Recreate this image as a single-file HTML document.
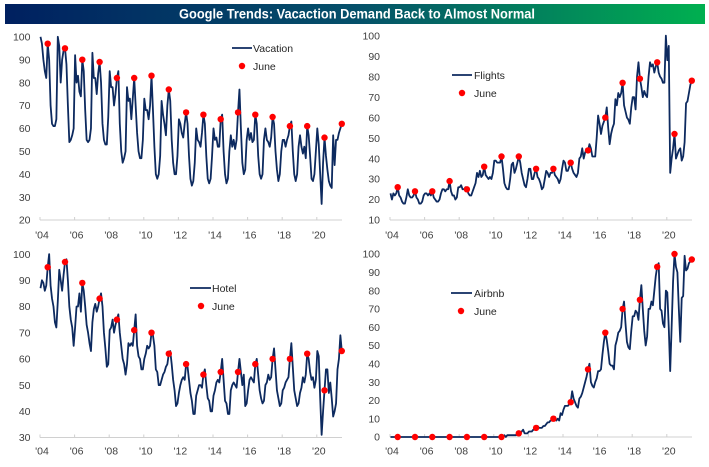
<!DOCTYPE html>
<html><head><meta charset="utf-8"><style>
html,body{margin:0;padding:0;background:#fff;}
svg{display:block;}
text{font-family:"Liberation Sans",Arial,sans-serif;}
.t{font-size:10.5px;fill:#404040;}
.l{font-size:10.5px;fill:#262626;}
.s{fill:none;stroke:#0d2a5f;stroke-width:1.8;stroke-linejoin:round;}
.ax{stroke:#d0d0d0;stroke-width:1;fill:none;}
.d{fill:#ff0000;}
</style></head><body>
<svg width="709" height="467" viewBox="0 0 709 467" xmlns="http://www.w3.org/2000/svg">
<defs>
<linearGradient id="g" x1="0" x2="1" y1="0" y2="0">
<stop offset="0" stop-color="#002060"/>
<stop offset="0.5" stop-color="#05506a"/>
<stop offset="1" stop-color="#00b050"/>
</linearGradient>
</defs>
<rect x="5" y="4" width="700" height="20" fill="url(#g)"/>
<text x="357" y="18.5" text-anchor="middle" font-size="13.5" font-weight="bold" fill="#fff" textLength="356" lengthAdjust="spacingAndGlyphs">Google Trends: Vacaction Demand Back to Almost Normal</text>

<!-- Panel 1 Vacation -->
<g class="t" text-anchor="end">
<text x="30.5" y="40.5">100</text><text x="30.5" y="63.4">90</text><text x="30.5" y="86.3">80</text><text x="30.5" y="109.2">70</text><text x="30.5" y="132.1">60</text><text x="30.5" y="155">50</text><text x="30.5" y="177.9">40</text><text x="30.5" y="200.8">30</text><text x="30.5" y="223.7">20</text>
</g>
<path class="ax" d="M40,220H342M40,217V220M74.6,217V220M109.2,217V220M143.8,217V220M178.4,217V220M213,217V220M247.6,217V220M282.2,217V220M316.8,217V220"/>
<g class="t" text-anchor="middle">
<text x="42" y="238.5">'04</text><text x="76.6" y="238.5">'06</text><text x="111.2" y="238.5">'08</text><text x="145.8" y="238.5">'10</text><text x="180.4" y="238.5">'12</text><text x="215" y="238.5">'14</text><text x="249.6" y="238.5">'16</text><text x="284.2" y="238.5">'18</text><text x="318.8" y="238.5">'20</text>
</g>
<g transform="translate(40.5,265.8) scale(1.4417,-2.29)">
<polyline class="s" vector-effect="non-scaling-stroke" points="0,100 1,97 2,90 3,85 4,82 5,97 6,90 7,70 8,62 9,61 10,61 11,64 12,100 13,96 14,80 15,90 16,94 17,95 18,88 19,70 20,54 21,55 22,57 23,60 24,92 25,80 26,83 27,76 28,74 29,90 30,85 31,68 32,55 33,54 34,55 35,60 36,93 37,82 38,82 39,75 40,84 41,89 42,80 43,62 44,55 45,53 46,53 47,65 48,85 49,78 50,78 51,70 52,75 53,82 54,85 55,62 56,50 57,45 58,47 59,50 60,78 61,72 62,73 63,64 64,73 65,82 66,70 67,58 68,50 69,47 70,47 71,55 72,73 73,68 74,68 75,64 76,70 77,83 78,68 79,52 80,40 81,38 82,40 83,48 84,72 85,66 86,62 87,57 88,70 89,77 90,72 91,55 92,45 93,40 94,40 95,48 96,64 97,62 98,58 99,56 100,62 101,67 102,62 103,48 104,38 105,35 106,37 107,45 108,60 109,55 110,54 111,52 112,58 113,66 114,62 115,48 116,38 117,36 118,38 119,48 120,60 121,55 122,56 123,52 124,52 125,64 126,66 127,50 128,40 129,36 130,38 131,50 132,57 133,52 134,55 135,51 136,55 137,67 138,77 139,60 140,45 141,40 142,42 143,55 144,60 145,55 146,58 147,54 148,55 149,66 150,62 151,48 152,40 153,38 154,40 155,55 156,60 157,55 158,54 159,52 160,56 161,65 162,62 163,50 164,42 165,37 166,40 167,50 168,55 169,55 170,52 171,55 172,57 173,61 174,63 175,50 176,40 177,37 178,40 179,52 180,57 181,52 182,49 183,52 184,47 185,61 186,57 187,48 188,38 189,37 190,40 191,50 192,60 193,53 194,40 195,27 196,45 197,56 198,48 199,42 200,37 201,35 202,34 203,57 204,44 205,55 206,55 207,58 208,60 209,62"/>
</g>
<g class="d">
<circle cx="47.7" cy="43.7" r="3.2"/><circle cx="65" cy="48.3" r="3.2"/><circle cx="82.3" cy="59.7" r="3.2"/><circle cx="99.6" cy="62" r="3.2"/><circle cx="116.9" cy="78" r="3.2"/><circle cx="134.2" cy="78" r="3.2"/><circle cx="151.5" cy="75.7" r="3.2"/><circle cx="168.8" cy="89.5" r="3.2"/><circle cx="186.1" cy="112.4" r="3.2"/><circle cx="203.4" cy="114.7" r="3.2"/><circle cx="220.7" cy="119.2" r="3.2"/><circle cx="238" cy="112.4" r="3.2"/><circle cx="255.3" cy="114.7" r="3.2"/><circle cx="272.6" cy="117" r="3.2"/><circle cx="289.9" cy="126.1" r="3.2"/><circle cx="307.2" cy="126.1" r="3.2"/><circle cx="324.5" cy="137.6" r="3.2"/><circle cx="341.8" cy="123.8" r="3.2"/>
</g>
<line x1="232" y1="48" x2="252" y2="48" stroke="#0d2a5f" stroke-width="1.8"/>
<text class="l" x="253" y="51.8">Vacation</text>
<circle class="d" cx="242" cy="66" r="3.2"/>
<text class="l" x="253" y="69.8">June</text>

<!-- Panel 2 Flights -->
<g class="t" text-anchor="end">
<text x="380" y="39.4">100</text><text x="380" y="59.9">90</text><text x="380" y="80.3">80</text><text x="380" y="100.8">70</text><text x="380" y="121.3">60</text><text x="380" y="141.8">50</text><text x="380" y="162.3">40</text><text x="380" y="182.7">30</text><text x="380" y="203.2">20</text><text x="380" y="223.7">10</text>
</g>
<path class="ax" d="M390,220H692M390,217V220M424.6,217V220M459.2,217V220M493.8,217V220M528.4,217V220M563,217V220M597.6,217V220M632.2,217V220M666.8,217V220"/>
<g class="t" text-anchor="middle">
<text x="392" y="238.5">'04</text><text x="426.6" y="238.5">'06</text><text x="461.2" y="238.5">'08</text><text x="495.8" y="238.5">'10</text><text x="530.4" y="238.5">'12</text><text x="565" y="238.5">'14</text><text x="599.6" y="238.5">'16</text><text x="634.2" y="238.5">'18</text><text x="668.8" y="238.5">'20</text>
</g>
<g transform="translate(390.5,240.48) scale(1.4417,-2.048)">
<polyline class="s" vector-effect="non-scaling-stroke" points="0,23 1,20 2,23 3,22 4,23 5,26 6,22 7,21 8,19 9,18 10,18 11,21 12,25 13,22 14,21 15,21 16,22 17,24 18,21 19,20 20,18 21,18 22,19 23,22 24,23 25,23 26,22 27,23 28,22 29,24 30,21 31,20 32,19 33,19 34,20 35,23 36,25 37,25 38,24 39,25 40,25 41,29 42,24 43,22 44,22 45,20 46,21 47,26 48,26 49,27 50,25 51,25 52,26 53,25 54,23 55,22 56,22 57,24 58,26 59,28 60,33 61,31 62,34 63,31 64,32 65,36 66,32 67,31 68,30 69,31 70,30 71,33 72,39 73,39 74,38 75,38 76,38 77,41 78,35 79,28 80,26 81,25 82,25 83,30 84,37 85,38 86,33 87,35 88,38 89,41 90,38 91,33 92,30 93,27 94,26 95,30 96,35 97,35 98,30 99,30 100,33 101,35 102,31 103,30 104,28 105,25 106,26 107,30 108,34 109,33 110,31 111,33 112,33 113,35 114,32 115,31 116,30 117,28 118,30 119,35 120,39 121,38 122,34 123,34 124,36 125,38 126,35 127,33 128,32 129,31 130,33 131,40 132,41 133,45 134,40 135,43 136,44 137,44 138,47 139,45 140,41 141,41 142,41 143,50 144,61 145,57 146,52 147,56 148,58 149,60 150,65 151,55 152,47 153,52 154,55 155,57 156,69 157,66 158,72 159,70 160,72 161,77 162,66 163,63 164,60 165,59 166,57 167,65 168,70 169,70 170,64 171,80 172,87 173,79 174,75 175,70 176,73 177,71 178,70 179,80 180,87 181,85 182,86 183,82 184,85 185,87 186,82 187,80 188,79 189,77 190,77 191,100 192,88 193,95 194,33 195,40 196,45 197,52 198,40 199,42 200,44 201,45 202,39 203,41 204,48 205,67 206,68 207,72 208,76 209,78"/>
</g>
<g class="d">
<circle cx="397.7" cy="187.2" r="3.2"/><circle cx="415" cy="191.3" r="3.2"/><circle cx="432.3" cy="191.3" r="3.2"/><circle cx="449.6" cy="181.1" r="3.2"/><circle cx="466.9" cy="189.3" r="3.2"/><circle cx="484.2" cy="166.7" r="3.2"/><circle cx="501.5" cy="156.5" r="3.2"/><circle cx="518.8" cy="156.5" r="3.2"/><circle cx="536.1" cy="168.8" r="3.2"/><circle cx="553.4" cy="168.8" r="3.2"/><circle cx="570.7" cy="162.7" r="3.2"/><circle cx="588" cy="150.4" r="3.2"/><circle cx="605.3" cy="117.6" r="3.2"/><circle cx="622.6" cy="82.8" r="3.2"/><circle cx="639.9" cy="78.7" r="3.2"/><circle cx="657.2" cy="62.3" r="3.2"/><circle cx="674.5" cy="134" r="3.2"/><circle cx="691.8" cy="80.7" r="3.2"/>
</g>
<line x1="452" y1="75" x2="472" y2="75" stroke="#0d2a5f" stroke-width="1.8"/>
<text class="l" x="474" y="78.8">Flights</text>
<circle class="d" cx="462" cy="93" r="3.2"/>
<text class="l" x="474" y="96.8">June</text>

<!-- Panel 3 Hotel -->
<g class="t" text-anchor="end">
<text x="30.5" y="257.8">100</text><text x="30.5" y="284">90</text><text x="30.5" y="310.2">80</text><text x="30.5" y="336.4">70</text><text x="30.5" y="362.6">60</text><text x="30.5" y="388.8">50</text><text x="30.5" y="415">40</text><text x="30.5" y="441.2">30</text>
</g>
<path class="ax" d="M40,437.5H342M40,434.5V437.5M74.6,434.5V437.5M109.2,434.5V437.5M143.8,434.5V437.5M178.4,434.5V437.5M213,434.5V437.5M247.6,434.5V437.5M282.2,434.5V437.5M316.8,434.5V437.5"/>
<g class="t" text-anchor="middle">
<text x="42" y="454.5">'04</text><text x="76.6" y="454.5">'06</text><text x="111.2" y="454.5">'08</text><text x="145.8" y="454.5">'10</text><text x="180.4" y="454.5">'12</text><text x="215" y="454.5">'14</text><text x="249.6" y="454.5">'16</text><text x="284.2" y="454.5">'18</text><text x="318.8" y="454.5">'20</text>
</g>
<g transform="translate(40.5,516.1) scale(1.4417,-2.62)">
<polyline class="s" vector-effect="non-scaling-stroke" points="0,87 1,90 2,89 3,86 4,88 5,95 6,100 7,88 8,83 9,80 10,74 11,72 12,82 13,94 14,90 15,86 16,92 17,97 18,98 19,90 20,80 21,75 22,72 23,65 24,72 25,80 26,80 27,85 28,78 29,89 30,86 31,80 32,73 33,70 34,66 35,63 36,74 37,79 38,81 39,78 40,80 41,83 42,85 43,80 44,70 45,64 46,57 47,58 48,71 49,72 50,75 51,70 52,73 53,75 54,77 55,70 56,65 57,60 58,58 59,54 60,58 61,66 62,65 63,66 64,65 65,71 66,77 67,65 68,61 69,60 70,56 71,56 72,60 73,62 74,65 75,64 76,65 77,70 78,69 79,65 80,56 81,55 82,50 83,50 84,52 85,54 86,55 87,57 88,58 89,62 90,63 91,58 92,52 93,48 94,42 95,43 96,47 97,50 98,52 99,53 100,52 101,58 102,57 103,52 104,47 105,44 106,39 107,39 108,46 109,48 110,50 111,50 112,49 113,54 114,56 115,50 116,45 117,44 118,40 119,40 120,46 121,48 122,51 123,52 124,51 125,55 126,60 127,52 128,44 129,43 130,39 131,39 132,48 133,50 134,51 135,50 136,49 137,55 138,60 139,55 140,50 141,54 142,42 143,43 144,48 145,52 146,53 147,52 148,51 149,58 150,60 151,54 152,48 153,45 154,43 155,44 156,50 157,51 158,54 159,52 160,53 161,60 162,64 163,56 164,48 165,45 166,42 167,43 168,48 169,49 170,51 171,52 172,53 173,60 174,66 175,57 176,48 177,45 178,42 179,43 180,47 181,49 182,53 183,51 184,54 185,62 186,60 187,55 188,52 189,53 190,49 191,52 192,63 193,61 194,45 195,31 196,40 197,48 198,56 199,56 200,47 201,51 202,45 203,38 204,40 205,43 206,56 207,60 208,69 209,63"/>
</g>
<g class="d">
<circle cx="47.7" cy="267.2" r="3.2"/><circle cx="65" cy="262" r="3.2"/><circle cx="82.3" cy="282.9" r="3.2"/><circle cx="99.6" cy="298.6" r="3.2"/><circle cx="116.9" cy="319.6" r="3.2"/><circle cx="134.2" cy="330.1" r="3.2"/><circle cx="151.5" cy="332.7" r="3.2"/><circle cx="168.8" cy="353.7" r="3.2"/><circle cx="186.1" cy="364.1" r="3.2"/><circle cx="203.4" cy="374.6" r="3.2"/><circle cx="220.7" cy="372" r="3.2"/><circle cx="238" cy="372" r="3.2"/><circle cx="255.3" cy="364.1" r="3.2"/><circle cx="272.6" cy="358.9" r="3.2"/><circle cx="289.9" cy="358.9" r="3.2"/><circle cx="307.2" cy="353.7" r="3.2"/><circle cx="324.5" cy="390.3" r="3.2"/><circle cx="341.8" cy="351" r="3.2"/>
</g>
<line x1="190" y1="288" x2="211" y2="288" stroke="#0d2a5f" stroke-width="1.8"/>
<text class="l" x="212" y="291.8">Hotel</text>
<circle class="d" cx="201" cy="306" r="3.2"/>
<text class="l" x="212" y="309.8">June</text>

<!-- Panel 4 Airbnb -->
<g class="t" text-anchor="end">
<text x="380" y="257.7">100</text><text x="380" y="276">90</text><text x="380" y="294.3">80</text><text x="380" y="312.6">70</text><text x="380" y="330.9">60</text><text x="380" y="349.2">50</text><text x="380" y="367.5">40</text><text x="380" y="385.8">30</text><text x="380" y="404.1">20</text><text x="380" y="422.4">10</text><text x="380" y="440.7">0</text>
</g>
<path class="ax" d="M390,437H692M390,434V437M424.6,434V437M459.2,434V437M493.8,434V437M528.4,434V437M563,434V437M597.6,434V437M632.2,434V437M666.8,434V437"/>
<g class="t" text-anchor="middle">
<text x="392" y="454.5">'04</text><text x="426.6" y="454.5">'06</text><text x="461.2" y="454.5">'08</text><text x="495.8" y="454.5">'10</text><text x="530.4" y="454.5">'12</text><text x="565" y="454.5">'14</text><text x="599.6" y="454.5">'16</text><text x="634.2" y="454.5">'18</text><text x="668.8" y="454.5">'20</text>
</g>
<g transform="translate(390.5,437) scale(1.4417,-1.83)">
<polyline class="s" vector-effect="non-scaling-stroke" points="0,0 78,0 79,1 80,0 81,1 82,1 83,1 84,1 85,1 86,1 87,1 88,2 89,2 90,2 91,3 92,4 93,2 94,2 95,2 96,3 97,3 98,3 99,4 100,4 101,5 102,6 103,5 104,5 105,5 106,6 107,6 108,7 109,8 110,8 111,9 112,9 113,10 114,11 115,9 116,10 117,9 118,13 119,12 120,15 121,17 122,17 123,17 124,18 125,19 126,25 127,21 128,19 129,17 130,16 131,21 132,22 133,24 134,27 135,30 136,33 137,37 138,40 139,30 140,28 141,27 142,30 143,32 144,36 145,36 146,37 147,45 148,52 149,57 150,53 151,47 152,40 153,39 154,39 155,37 156,50 157,53 158,57 159,58 160,60 161,70 162,74 163,62 164,52 165,49 166,48 167,58 168,66 169,66 170,69 171,68 172,64 173,75 174,83 175,70 176,58 177,50 178,55 179,70 180,70 181,74 182,72 183,80 184,88 185,93 186,95 187,70 188,69 189,62 190,60 191,80 192,79 193,60 194,36 195,60 196,85 197,100 198,93 199,90 200,70 201,52 202,76 203,77 204,99 205,91 206,92 207,95 208,96 209,97"/>
</g>
<g class="d">
<circle cx="397.7" cy="437" r="3.2"/><circle cx="415" cy="437" r="3.2"/><circle cx="432.3" cy="437" r="3.2"/><circle cx="449.6" cy="437" r="3.2"/><circle cx="466.9" cy="437" r="3.2"/><circle cx="484.2" cy="437" r="3.2"/><circle cx="501.5" cy="437" r="3.2"/><circle cx="518.8" cy="433.3" r="3.2"/><circle cx="536.1" cy="427.9" r="3.2"/><circle cx="553.4" cy="418.7" r="3.2"/><circle cx="570.7" cy="402.2" r="3.2"/><circle cx="588" cy="369.3" r="3.2"/><circle cx="605.3" cy="332.7" r="3.2"/><circle cx="622.6" cy="308.9" r="3.2"/><circle cx="639.9" cy="299.8" r="3.2"/><circle cx="657.2" cy="266.8" r="3.2"/><circle cx="674.5" cy="254" r="3.2"/><circle cx="691.8" cy="259.5" r="3.2"/>
</g>
<line x1="451" y1="293" x2="472" y2="293" stroke="#0d2a5f" stroke-width="1.8"/>
<text class="l" x="474" y="296.8">Airbnb</text>
<circle class="d" cx="461" cy="311" r="3.2"/>
<text class="l" x="474" y="314.8">June</text>
</svg>
</body></html>
